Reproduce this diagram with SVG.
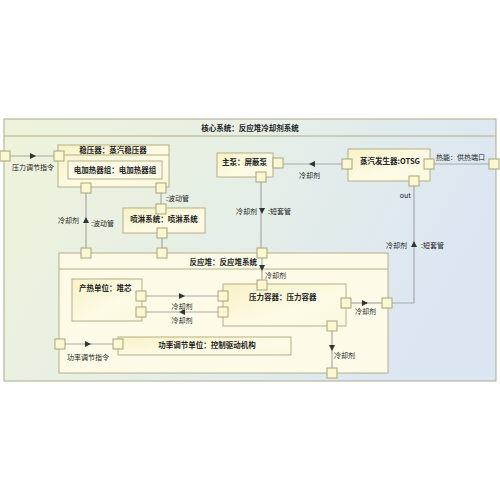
<svg xmlns="http://www.w3.org/2000/svg" xmlns:xlink="http://www.w3.org/1999/xlink" width="500" height="500" viewBox="0 0 500 500">
<style>
text{font-family:"Noto Sans CJK SC","Liberation Sans",sans-serif;font-size:7px;fill:#222}
.t{font-weight:bold;font-size:7.5px}
.box{fill:url(#gb);stroke:#b3b084;stroke-width:1}
.ibox{fill:#fdfbe8;stroke:#b3b084;stroke-width:1}
.port{fill:#faf7d2;stroke:#a9a474;stroke-width:1}
.ln{fill:none;stroke:#a8a8a8;stroke-width:1.2}
.sep{stroke:#b3b084;stroke-width:1}
</style>
<defs>
<linearGradient id="gf" x1="0" y1="0" x2="1" y2="0.3">
<stop offset="0" stop-color="#eff3da"/><stop offset="0.5" stop-color="#e6efe6"/><stop offset="1" stop-color="#dce6f3"/>
</linearGradient>
<linearGradient id="gb" x1="0" y1="0" x2="1" y2="1">
<stop offset="0" stop-color="#f7f2c6"/><stop offset="0.6" stop-color="#fdfbe6"/><stop offset="1" stop-color="#fbf8df"/>
</linearGradient>
<path id="ar" d="M-3,-3 L3,0 L-3,3 Z" fill="#333"/>
</defs>
<rect width="500" height="500" fill="#fff"/>
<g id="core-system">
<rect x="4" y="119" width="492" height="262" fill="url(#gf)" stroke="#a9ad88" stroke-width="1"/>
<line x1="4" y1="136" x2="496" y2="136" class="sep"/>
<text x="250" y="131" text-anchor="middle" class="t">核心系统：反应堆冷却剂系统</text>
<rect x="0" y="151" width="10" height="10" class="port"/>
<rect x="489" y="159" width="10" height="10" class="port"/>
</g>
<g id="pressurizer">
<rect x="58" y="145" width="111" height="42" class="box"/>
<line x1="58" y1="155" x2="169" y2="155" class="sep"/>
<text x="113" y="153" text-anchor="middle" class="t">稳压器：蒸汽稳压器</text>
<g id="heater"><rect x="68" y="161" width="94" height="18" class="ibox"/>
<text x="115" y="173" text-anchor="middle" class="t">电加热器组：电加热器组</text></g>
<rect x="54" y="151" width="10" height="10" class="port"/>
<rect x="81" y="183" width="10" height="10" class="port"/>
<rect x="156" y="183" width="10" height="10" class="port"/>
</g>
<g id="spray">
<rect x="123" y="208" width="82" height="25" class="box"/>
<text x="164" y="222" text-anchor="middle" class="t">喷淋系统：喷淋系统</text>
<rect x="156" y="204" width="10" height="10" class="port"/>
<rect x="157" y="228" width="10" height="10" class="port"/>
</g>
<g id="pump">
<rect x="217" y="153" width="56" height="24" class="box"/>
<text x="222" y="165" class="t">主泵：屏蔽泵</text>
<rect x="273" y="158" width="10" height="10" class="port"/>
<rect x="256" y="172" width="10" height="10" class="port"/>
</g>
<g id="otsg">
<rect x="348" y="149" width="82" height="32" class="box"/>
<text x="390" y="164" text-anchor="middle" class="t">蒸汽发生器:OTSG</text>
<rect x="342" y="159" width="10" height="10" class="port"/>
<rect x="424" y="159" width="10" height="10" class="port"/>
<rect x="409" y="176" width="10" height="10" class="port"/>
</g>
<g id="reactor">
<rect x="59" y="253" width="329" height="120" class="ibox"/>
<line x1="59" y1="269" x2="388" y2="269" class="sep"/>
<text x="257" y="265" text-anchor="end" class="t">反应堆：反应堆系统</text>
<rect x="81" y="248" width="10" height="10" class="port"/>
<rect x="157" y="248" width="10" height="10" class="port"/>
<rect x="257" y="248" width="10" height="10" class="port"/>
<rect x="382" y="298" width="10" height="10" class="port"/>
<rect x="327" y="368" width="10" height="10" class="port"/>
<rect x="55" y="339" width="10" height="10" class="port"/>
</g>
<g id="core">
<rect x="72" y="279" width="70" height="42" class="box"/>
<text x="79" y="291" class="t">产热单位：堆芯</text>
<rect x="136" y="291" width="10" height="10" class="port"/>
<rect x="136" y="307" width="10" height="10" class="port"/>
</g>
<g id="vessel">
<rect x="223" y="284" width="123" height="42" class="box"/>
<text x="249" y="300" class="t">压力容器：压力容器</text>
<rect x="218" y="291" width="10" height="10" class="port"/>
<rect x="218" y="307" width="10" height="10" class="port"/>
<rect x="257" y="280" width="10" height="10" class="port"/>
<rect x="341" y="298" width="10" height="10" class="port"/>
<rect x="327" y="321" width="10" height="10" class="port"/>
</g>
<g id="power">
<rect x="118" y="337" width="173" height="18" class="box"/>
<text x="207" y="348" text-anchor="middle" class="t">功率调节单位：控制驱动机构</text>
<rect x="113" y="339" width="10" height="10" class="port"/>
</g>
<g id="connectors">
<path class="ln" d="M10,156 H54"/><use xlink:href="#ar" transform="translate(33,156)"/>
<text x="12" y="170">压力调节指令</text>
<path class="ln" d="M86,193 V248"/><use xlink:href="#ar" transform="translate(86,220) rotate(-90)"/>
<text x="58" y="223">冷却剂</text><text x="91" y="226">:波动管</text>
<path class="ln" d="M161,193 V204"/>
<text x="166" y="201">:波动管</text>
<path class="ln" d="M162,238 V248"/>
<path class="ln" d="M261,182 V248"/><use xlink:href="#ar" transform="translate(262,211) rotate(90)"/>
<text x="257" y="214" text-anchor="end">冷却剂</text><text x="268" y="214">:短套管</text>
<path class="ln" d="M262,258 V280"/><use xlink:href="#ar" transform="translate(262,268) rotate(90)"/>
<text x="265" y="278">冷却剂</text>
<path class="ln" d="M342,164 H283"/><use xlink:href="#ar" transform="translate(312,164) rotate(180)"/>
<text x="299" y="178">冷却剂</text>
<path class="ln" d="M434,164 H489"/>
<text x="436" y="160">热能：供热端口</text>
<path class="ln" d="M392,303 H414 V186"/><use xlink:href="#ar" transform="translate(414,244) rotate(-90)"/>
<text x="407" y="248" text-anchor="end">冷却剂</text><text x="421" y="248">:短套管</text>
<text x="411" y="198" text-anchor="end">out</text>
<path class="ln" d="M351,303 H382"/><use xlink:href="#ar" transform="translate(365,303)"/>
<text x="355" y="314">冷却剂</text>
<path class="ln" d="M146,296 H218"/><use xlink:href="#ar" transform="translate(182,296)"/>
<text x="182" y="309" text-anchor="middle">冷却剂</text>
<path class="ln" d="M218,312 H146"/><use xlink:href="#ar" transform="translate(182,312) rotate(180)"/>
<text x="182" y="323" text-anchor="middle">冷却剂</text>
<path class="ln" d="M332,331 V368"/><use xlink:href="#ar" transform="translate(332,348) rotate(90)"/>
<text x="334" y="358">冷却剂</text>
<path class="ln" d="M65,344 H113"/><use xlink:href="#ar" transform="translate(88,344)"/>
<text x="67" y="360">功率调节指令</text>
</g>
</svg>
